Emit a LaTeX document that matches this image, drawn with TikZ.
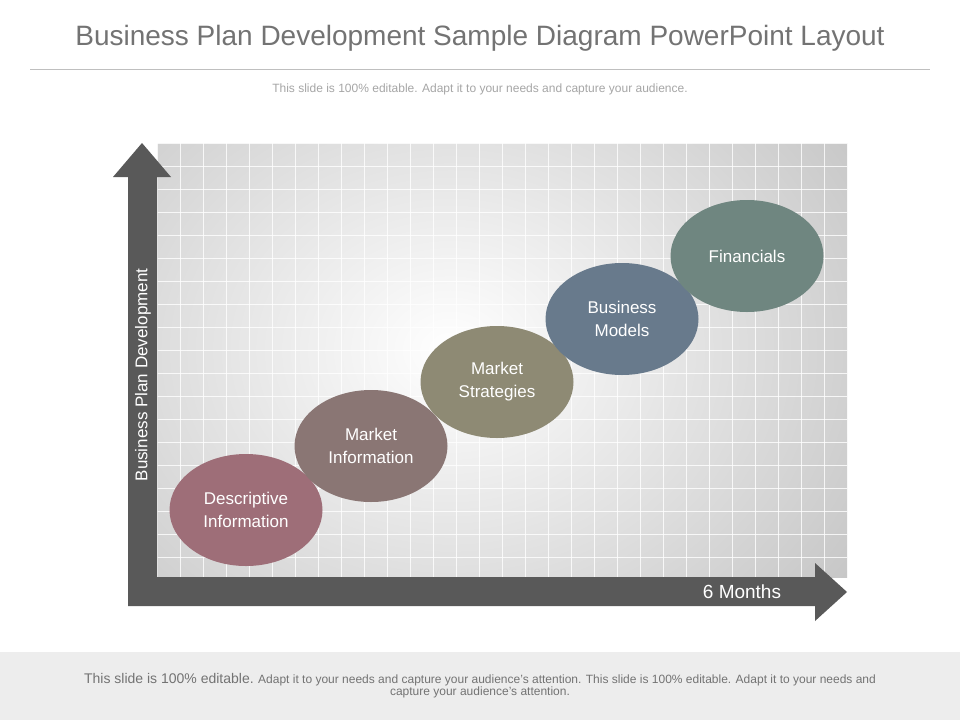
\documentclass[tikz,border=0pt]{standalone}
\usepackage{fontspec}
\setmainfont{Liberation Sans}
\usetikzlibrary{shapes.geometric}
\begin{document}
\begin{tikzpicture}[x=1pt,y=-1pt,
  bubble/.style={ellipse,minimum width=153pt,minimum height=112pt,text=white,align=center,font=\fontsize{17}{23}\selectfont,inner sep=0pt},
  axis/.style={fill=black!65,draw=none}]
\useasboundingbox (0,0) rectangle (960,720);
\fill[white] (0,0) rectangle (960,720);
% title
\node (title) at (480,38) {\fontsize{28}{32}\selectfont\color{black!55}Business Plan Development Sample Diagram PowerPoint Layout};
\coordinate (l1) at (30,69); \coordinate (l2) at (930,69);
\draw[black!25,line width=0.8pt] (l1) -- (l2);
\node (sub) at (480,89) {\fontsize{12}{14}\selectfont\color{black!35}This slide is 100\% editable. Adapt it to your needs and capture your audience.};
% grid area
\begin{scope}
\clip (157,143) rectangle (847,577);
\shade[inner color=white,outer color=black!25] (-100,-100) rectangle (1000,800);
\foreach \i in {0,...,30} {\draw[white,opacity=0.8,line width=0.6pt] (157+23*\i,143) -- (157+23*\i,577);}
\foreach \i in {0,...,19} {\draw[white,opacity=0.8,line width=0.6pt] (157,143+23*\i) -- (847,143+23*\i);}
\end{scope}
% axes
\fill[axis] (128,606) -- (128,177) -- (113,177) -- (142,143) -- (171,177) -- (157,177) -- (157,577) -- (815,577) -- (815,563) -- (847,592) -- (815,621) -- (815,606) -- cycle;
\node[rotate=90,text=white,font=\fontsize{17}{20}\selectfont] (ylab) at (143,375) {Business Plan Development};
\node[text=white,font=\fontsize{19}{22}\selectfont] (xlab) at (742,592) {6 Months};
% bubbles
\node[bubble,fill={rgb,255:red,158;green,110;blue,120}] (b1) at (246,510) {Descriptive\\Information};
\node[bubble,fill={rgb,255:red,138;green,118;blue,116}] (b2) at (371,446) {Market\\Information};
\node[bubble,fill={rgb,255:red,142;green,138;blue,116}] (b3) at (497,382) {Market\\Strategies};
\node[bubble,fill={rgb,255:red,104;green,122;blue,140}] (b4) at (622,319) {Business\\Models};
\node[bubble,fill={rgb,255:red,111;green,134;blue,128}] (b5) at (747,256) {Financials};
% footer
\fill[black!7] (0,652) rectangle (960,720);
\node[align=center,text=black!55] (foot) at (480,686) {{\fontsize{14}{16}\selectfont This slide is 100\% editable.}\fontsize{12}{16}\selectfont{} Adapt it to your needs and capture your audience's attention. This slide is 100\% editable. Adapt it to your needs and\\\fontsize{12}{16}\selectfont capture your audience's attention.};
\end{tikzpicture}
\end{document}
